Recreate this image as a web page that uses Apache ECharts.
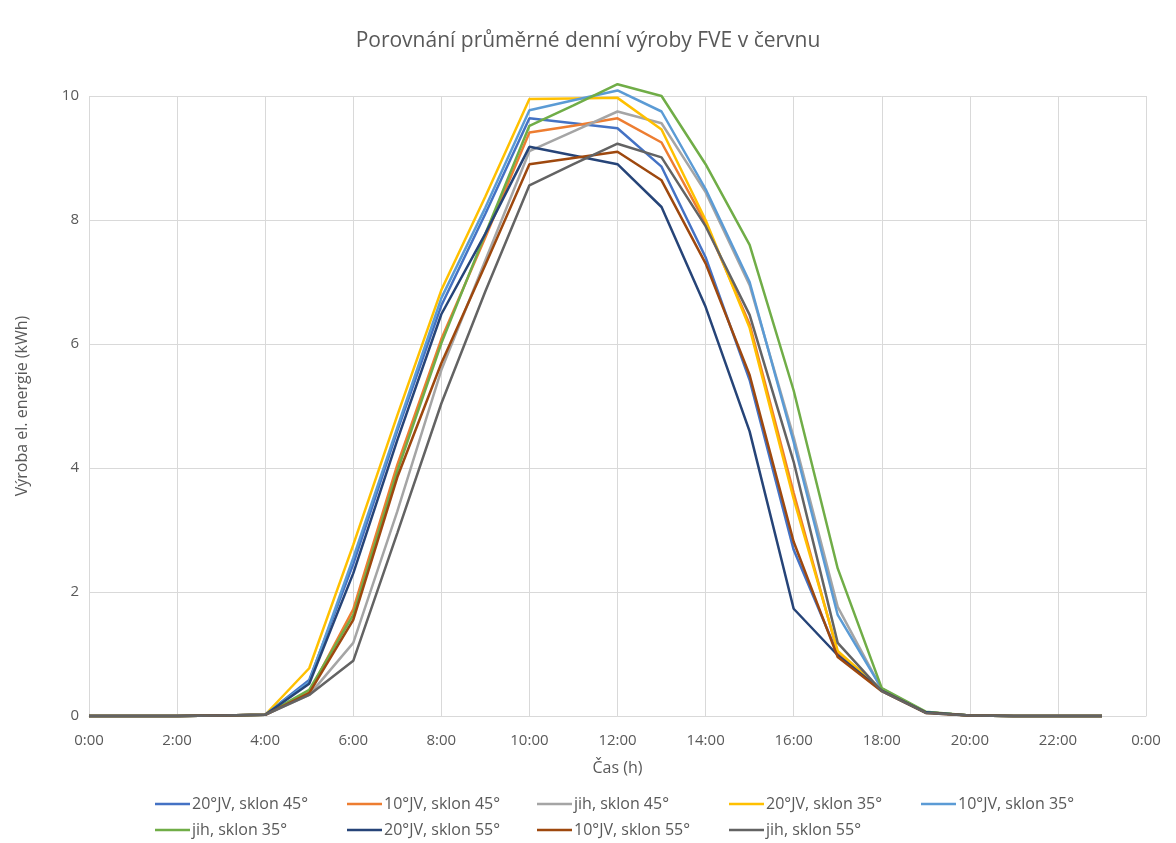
<!DOCTYPE html>
<html>
<head>
<meta charset="utf-8">
<script src="https://cdn.jsdelivr.net/npm/echarts@6/dist/echarts.min.js"></script>
<style>
html,body{margin:0;padding:0;background:#fff;}
#chart{width:1176px;height:843px;}
</style>
</head>
<body>
<div id="chart"></div>
<script>
const hours = [0,1,2,3,4,5,6,7,8,9,10,11,12,13,14,15,16,17,18,19,20,21,22,23];
const xTicks = ['0:00','2:00','4:00','6:00','8:00','10:00','12:00','14:00','16:00','18:00','20:00','22:00','0:00'];
const seriesNames = ['20°JV, sklon 45°','10°JV, sklon 45°','jih, sklon 45°','20°JV, sklon 35°','10°JV, sklon 35°','jih, sklon 35°','20°JV, sklon 55°','10°JV, sklon 55°','jih, sklon 55°'];
const colors = ['#4472C4','#ED7D31','#A5A5A5','#FFC000','#5B9BD5','#70AD47','#264478','#9E480E','#636363'];

const jv20_45 = [0,0,0,0.01,0.02,0.58,2.45,4.60,6.62,8.10,9.64,9.56,9.48,8.86,7.40,5.42,2.68,1.00,0.42,0.06,0.01,0,0,0];
const jv10_45 = [0,0,0,0.01,0.02,0.38,1.72,4.05,6.08,7.72,9.41,9.52,9.64,9.25,7.95,6.32,3.60,1.02,0.42,0.06,0.01,0,0,0];
const jih_45  = [0,0,0,0.01,0.02,0.34,1.18,3.30,5.58,7.35,9.11,9.43,9.75,9.56,8.45,6.95,4.50,1.76,0.43,0.06,0.01,0,0,0];
const jv20_35 = [0,0,0,0.01,0.02,0.77,2.76,4.85,6.87,8.38,9.95,9.96,9.97,9.46,8.00,6.26,3.50,1.05,0.42,0.06,0.01,0,0,0];
const jv10_35 = [0,0,0,0.01,0.02,0.55,2.55,4.65,6.74,8.20,9.77,9.93,10.09,9.75,8.50,7.00,4.42,1.63,0.44,0.06,0.01,0,0,0];
const jih_35  = [0,0,0,0.01,0.02,0.42,1.63,3.95,6.01,7.78,9.52,9.85,10.19,10.00,8.90,7.60,5.25,2.38,0.45,0.07,0.01,0,0,0];
const jv20_55 = [0,0,0,0.01,0.02,0.52,2.30,4.45,6.48,7.78,9.18,9.04,8.90,8.21,6.60,4.59,1.73,0.98,0.41,0.06,0.01,0,0,0];
const jv10_55 = [0,0,0,0.01,0.02,0.37,1.55,3.85,5.69,7.28,8.90,9.00,9.10,8.64,7.30,5.50,2.81,0.95,0.40,0.05,0.01,0,0,0];
const jih_55  = [0,0,0,0.01,0.02,0.34,0.89,2.95,5.04,6.85,8.56,8.90,9.23,9.01,7.90,6.47,4.10,1.18,0.40,0.05,0.01,0,0,0];
const seriesValues = [jv20_45, jv10_45, jih_45, jv20_35, jv10_35, jih_35, jv20_55, jv10_55, jih_55];

const FONT = '"Open Sans", "Noto Sans", sans-serif';
const TXT = '#595959';

const chart = echarts.init(document.getElementById('chart'));

const legendCols = [155, 347, 537, 729, 921];
const legends = seriesNames.map((n, i) => ({
  data: [n],
  left: legendCols[i % 5],
  top: i < 5 ? 796 : 822,
  icon: 'rect',
  itemWidth: 35,
  itemHeight: 2.5,
  itemGap: 0,
  padding: 0,
  selectedMode: false,
  textStyle: {fontFamily: FONT, fontSize: 16, color: TXT, padding: [0,0,0,-3]}
}));

chart.setOption({
  animation: false,
  color: colors,
  title: {
    text: 'Porovnání průměrné denní výroby FVE v červnu',
    left: 'center',
    top: 26,
    textStyle: {fontFamily: FONT, fontSize: 21, fontWeight: 'normal', color: TXT}
  },
  legend: legends,
  grid: {left: 89, right: 30, top: 96, bottom: 127, containLabel: false},
  xAxis: {
    type: 'value',
    min: 0, max: 24, interval: 2,
    name: 'Čas (h)',
    nameLocation: 'middle',
    nameGap: 44,
    nameTextStyle: {fontFamily: FONT, fontSize: 16, color: TXT},
    axisLine: {show: true, lineStyle: {color: '#D9D9D9', width: 1}},
    axisTick: {show: false},
    splitLine: {show: true, lineStyle: {color: '#D9D9D9', width: 1}},
    axisLabel: {
      fontFamily: FONT, fontSize: 15, color: TXT, margin: 17,
      formatter: v => xTicks[Math.round(v / 2)]
    }
  },
  yAxis: {
    type: 'value',
    min: 0, max: 10, interval: 2,
    name: 'Výroba el. energie (kWh)',
    nameLocation: 'middle',
    nameGap: 59,
    nameTextStyle: {fontFamily: FONT, fontSize: 16, color: TXT},
    axisLine: {show: false},
    axisTick: {show: false},
    splitLine: {show: true, lineStyle: {color: '#D9D9D9', width: 1}},
    axisLabel: {fontFamily: FONT, fontSize: 15, color: TXT, margin: 10}
  },
  series: seriesNames.map((n, i) => ({
    name: n,
    type: 'line',
    clip: false,
    showSymbol: false,
    symbol: 'none',
    lineStyle: {width: 2.5, color: colors[i]},
    itemStyle: {color: colors[i]},
    data: hours.map((h, k) => [h, seriesValues[i][k]])
  }))
});
</script>
</body>
</html>
